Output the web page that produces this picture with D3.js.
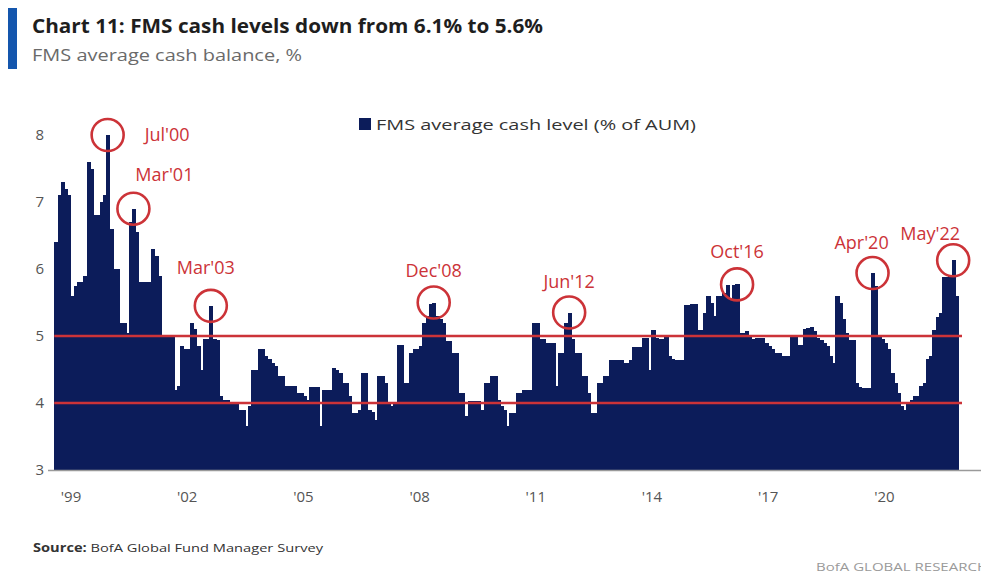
<!DOCTYPE html>
<html>
<head>
<meta charset="utf-8">
<script src="https://cdn.jsdelivr.net/npm/d3@7"></script>
<style>
  body { margin: 0; background: #fff; }
  svg { display: block; }
</style>
</head>
<body>
<svg id="chart"></svg>
<script>
// FMS average cash level, monthly, % of AUM (1999 starts in March)
const cash1999 = [6.4, 7.1, 7.3, 7.2, 7.1, 5.6, 5.75, 5.8, 5.8, 5.9];
const cash2000 = [7.6, 7.5, 6.8, 6.8, 7.0, 7.1, 8.0, 6.6, 6.0, 6.0, 5.2, 5.2];
const cash2001 = [5.05, 6.7, 6.9, 6.55, 5.8, 5.8, 5.8, 5.8, 6.3, 6.2, 5.9, 5.0];
const cash2002 = [5.0, 5.0, 5.0, 4.2, 4.25, 4.85, 4.8, 4.8, 5.2, 5.1, 4.85, 4.5];
const cash2003 = [4.95, 4.95, 5.45, 4.95, 4.94, 4.1, 4.05, 4.05, 4.0, 4.0, 4.0, 3.9];
const cash2004 = [3.9, 3.65, 3.95, 4.5, 4.5, 4.8, 4.8, 4.7, 4.65, 4.6, 4.55, 4.4];
const cash2005 = [4.4, 4.25, 4.25, 4.25, 4.25, 4.15, 4.15, 4.1, 4.05, 4.24, 4.24, 4.24];
const cash2006 = [3.65, 4.2, 4.2, 4.2, 4.52, 4.5, 4.45, 4.3, 4.3, 4.1, 3.85, 3.85];
const cash2007 = [3.9, 4.45, 4.45, 3.9, 3.87, 3.75, 4.4, 4.4, 4.3, 4.0, 3.95, 4.0];
const cash2008 = [4.87, 4.87, 4.3, 4.3, 4.75, 4.8, 4.8, 4.85, 5.2, 5.3, 5.48, 5.5];
const cash2009 = [5.3, 5.25, 5.2, 4.92, 4.92, 4.75, 4.75, 4.15, 4.15, 3.8, 4.03, 4.03];
const cash2010 = [4.03, 4.03, 3.9, 4.3, 4.3, 4.4, 4.4, 4.05, 3.95, 3.9, 3.65, 3.85];
const cash2011 = [3.85, 4.15, 4.15, 4.2, 4.2, 4.2, 5.2, 5.2, 4.95, 4.95, 4.9, 4.9];
const cash2012 = [4.9, 4.25, 4.75, 4.75, 5.2, 5.35, 4.95, 4.75, 4.75, 4.4, 4.4, 4.15];
const cash2013 = [3.85, 3.85, 4.3, 4.3, 4.4, 4.4, 4.64, 4.64, 4.64, 4.64, 4.6, 4.6];
const cash2014 = [4.64, 4.84, 4.84, 4.84, 4.97, 4.97, 4.5, 5.09, 4.97, 4.95, 4.95, 5.0];
const cash2015 = [4.7, 4.65, 4.64, 4.64, 4.64, 5.46, 5.46, 5.48, 5.48, 5.09, 5.09, 5.34];
const cash2016 = [5.6, 5.5, 5.3, 5.6, 5.6, 5.64, 5.76, 5.55, 5.76, 5.77, 5.05, 5.05];
const cash2017 = [5.07, 5.0, 4.96, 4.97, 4.97, 4.97, 4.9, 4.85, 4.8, 4.75, 4.75, 4.7];
const cash2018 = [4.7, 4.7, 5.0, 5.0, 4.86, 4.86, 5.1, 5.12, 5.14, 5.07, 4.97, 4.94];
const cash2019 = [4.9, 4.85, 4.7, 4.6, 5.59, 5.5, 5.25, 5.05, 4.94, 4.94, 4.3, 4.24];
const cash2020 = [4.22, 4.22, 4.22, 5.94, 5.75, 5.0, 4.95, 4.9, 4.8, 4.45, 4.3, 4.15];
const cash2021 = [3.95, 3.9, 4.0, 4.05, 4.1, 4.1, 4.25, 4.3, 4.65, 4.7, 5.09, 5.28];
const cash2022 = [5.34, 5.88, 5.88, 5.9, 6.13, 5.6];

const yearSeries = [cash1999, cash2000, cash2001, cash2002, cash2003, cash2004, cash2005,
  cash2006, cash2007, cash2008, cash2009, cash2010, cash2011, cash2012, cash2013, cash2014,
  cash2015, cash2016, cash2017, cash2018, cash2019, cash2020, cash2021, cash2022];

// threshold lines
const bands = [5.0, 4.0];

// annotated peaks: label, year, month (0-based)
const annLabels = ["Jul'00", "Mar'01", "Mar'03", "Dec'08", "Jun'12", "Oct'16", "Apr'20", "May'22"];
const annYears  = [2000, 2001, 2003, 2008, 2012, 2016, 2020, 2022];
const annMonths = [6, 2, 2, 11, 5, 9, 3, 4];

const yTicks = [3, 4, 5, 6, 7, 8];
const xTickYears = [1999, 2002, 2005, 2008, 2011, 2014, 2017, 2020];

// label placement next to each circle [dx, dy, anchor]
const labelPlace = [[37, 6, "start"], [31, -28, "middle"], [-5, -32, "middle"], [0, -26, "middle"],
  [0, -25, "middle"], [0, -26, "middle"], [-11, -24, "middle"], [-23, -20, "middle"]];

const W = 981, H = 576;
const navy = "#0c1c5a", red = "#cc3338";
const font = "'Open Sans', 'Noto Sans', sans-serif";

const data = [];
yearSeries.forEach((arr, i) => {
    const m0 = i === 0 ? 2 : 0;
    arr.forEach((v, j) => data.push({ date: new Date(1999 + i, m0 + j, 1), value: v }));
});

const svg = d3.select("#chart").attr("width", W).attr("height", H);
svg.append("rect").attr("width", W).attr("height", H).attr("fill", "#fff");

const x = d3.scaleTime()
    .domain([new Date(1999, 0, 1), new Date(2022, 6, 1)])
    .range([48, 958]);
const y = d3.scaleLinear().domain([3, 8]).range([470, 135]);

// Title block
svg.append("rect").attr("x", 8).attr("y", 8).attr("width", 9).attr("height", 61).attr("fill", "#1456ad");
svg.append("text")
    .attr("x", 32).attr("y", 33)
    .attr("font-family", font).attr("font-weight", "bold").attr("font-size", 19)
    .attr("fill", "#1e1e1e")
    .attr("textLength", 511).attr("lengthAdjust", "spacingAndGlyphs")
    .text("Chart 11: FMS cash levels down from 6.1% to 5.6%");
svg.append("text")
    .attr("x", 32).attr("y", 61)
    .attr("font-family", font).attr("font-size", 17)
    .attr("fill", "#6a6a6a")
    .attr("textLength", 270).attr("lengthAdjust", "spacingAndGlyphs")
    .text("FMS average cash balance, %");

// Legend
svg.append("rect").attr("x", 359).attr("y", 118).attr("width", 12).attr("height", 12).attr("fill", navy);
svg.append("text")
    .attr("x", 376).attr("y", 130)
    .attr("font-family", font).attr("font-size", 15)
    .attr("fill", "#333")
    .attr("textLength", 320).attr("lengthAdjust", "spacingAndGlyphs")
    .text("FMS average cash level (% of AUM)");

// Bars
svg.append("g")
    .attr("shape-rendering", "crispEdges")
    .selectAll("rect")
    .data(data)
    .join("rect")
    .attr("x", d => x(d.date))
    .attr("width", d => x(d3.timeMonth.offset(d.date, 1)) - x(d.date) + 1)
    .attr("y", d => y(d.value))
    .attr("height", d => y(3) - y(d.value))
    .attr("fill", navy);

// Base line
svg.append("line")
    .attr("x1", 48).attr("x2", W).attr("y1", y(3) + 0.5).attr("y2", y(3) + 0.5)
    .attr("stroke", "#9a9a9a").attr("stroke-width", 1.5);

// Threshold lines
const x0 = x(data[0].date), x1 = x(d3.timeMonth.offset(data[data.length - 1].date, 1)) + 4;
svg.append("g").selectAll("line")
    .data(bands)
    .join("line")
    .attr("x1", x0).attr("x2", x1)
    .attr("y1", d => y(d)).attr("y2", d => y(d))
    .attr("stroke", red).attr("stroke-width", 2.6);

// Axes
const yAxis = svg.append("g")
    .attr("transform", "translate(48,0)")
    .call(d3.axisLeft(y).tickValues(yTicks).tickSize(0).tickPadding(4).tickFormat(d3.format("d")));
yAxis.select(".domain").remove();
yAxis.selectAll("text").attr("font-family", font).attr("font-size", 15).attr("fill", "#555");

const xAxis = svg.append("g")
    .attr("transform", `translate(0,${y(3)})`)
    .call(d3.axisBottom(x)
        .tickValues(xTickYears.map(yr => new Date(yr, 7, 1)))
        .tickSize(0).tickPadding(21)
        .tickFormat(d3.timeFormat("'%y")));
xAxis.select(".domain").remove();
xAxis.selectAll("text").attr("font-family", font).attr("font-size", 15).attr("fill", "#555");

// Annotations
const ann = annLabels.map((label, i) => {
    const date = new Date(annYears[i], annMonths[i], 1);
    const pt = data.find(d => +d.date === +date);
    const cx = (x(date) + x(d3.timeMonth.offset(date, 1))) / 2;
    return { label, cx, cy: y(pt.value), place: labelPlace[i] };
});

const annG = svg.append("g");
annG.selectAll("circle")
    .data(ann)
    .join("circle")
    .attr("cx", d => d.cx).attr("cy", d => d.cy).attr("r", 16)
    .attr("fill", "none").attr("stroke", red).attr("stroke-width", 2.6);

annG.selectAll("text")
    .data(ann)
    .join("text")
    .attr("x", d => d.cx + d.place[0])
    .attr("y", d => d.cy + d.place[1])
    .attr("text-anchor", d => d.place[2])
    .attr("font-family", font).attr("font-size", 18)
    .attr("fill", red)
    .text(d => d.label);

// Footer
const src = svg.append("text")
    .attr("x", 33).attr("y", 552)
    .attr("font-family", font).attr("font-size", 11.5)
    .attr("fill", "#333")
    .attr("textLength", 290).attr("lengthAdjust", "spacingAndGlyphs");
src.append("tspan").attr("font-weight", "bold").text("Source: ");
src.append("tspan").text("BofA Global Fund Manager Survey");

svg.append("text")
    .attr("x", 816).attr("y", 571)
    .attr("font-family", font).attr("font-size", 11)
    .attr("fill", "#9a9a9a")
    .attr("textLength", 172).attr("lengthAdjust", "spacingAndGlyphs")
    .text("BofA GLOBAL RESEARCH");
</script>
</body>
</html>
